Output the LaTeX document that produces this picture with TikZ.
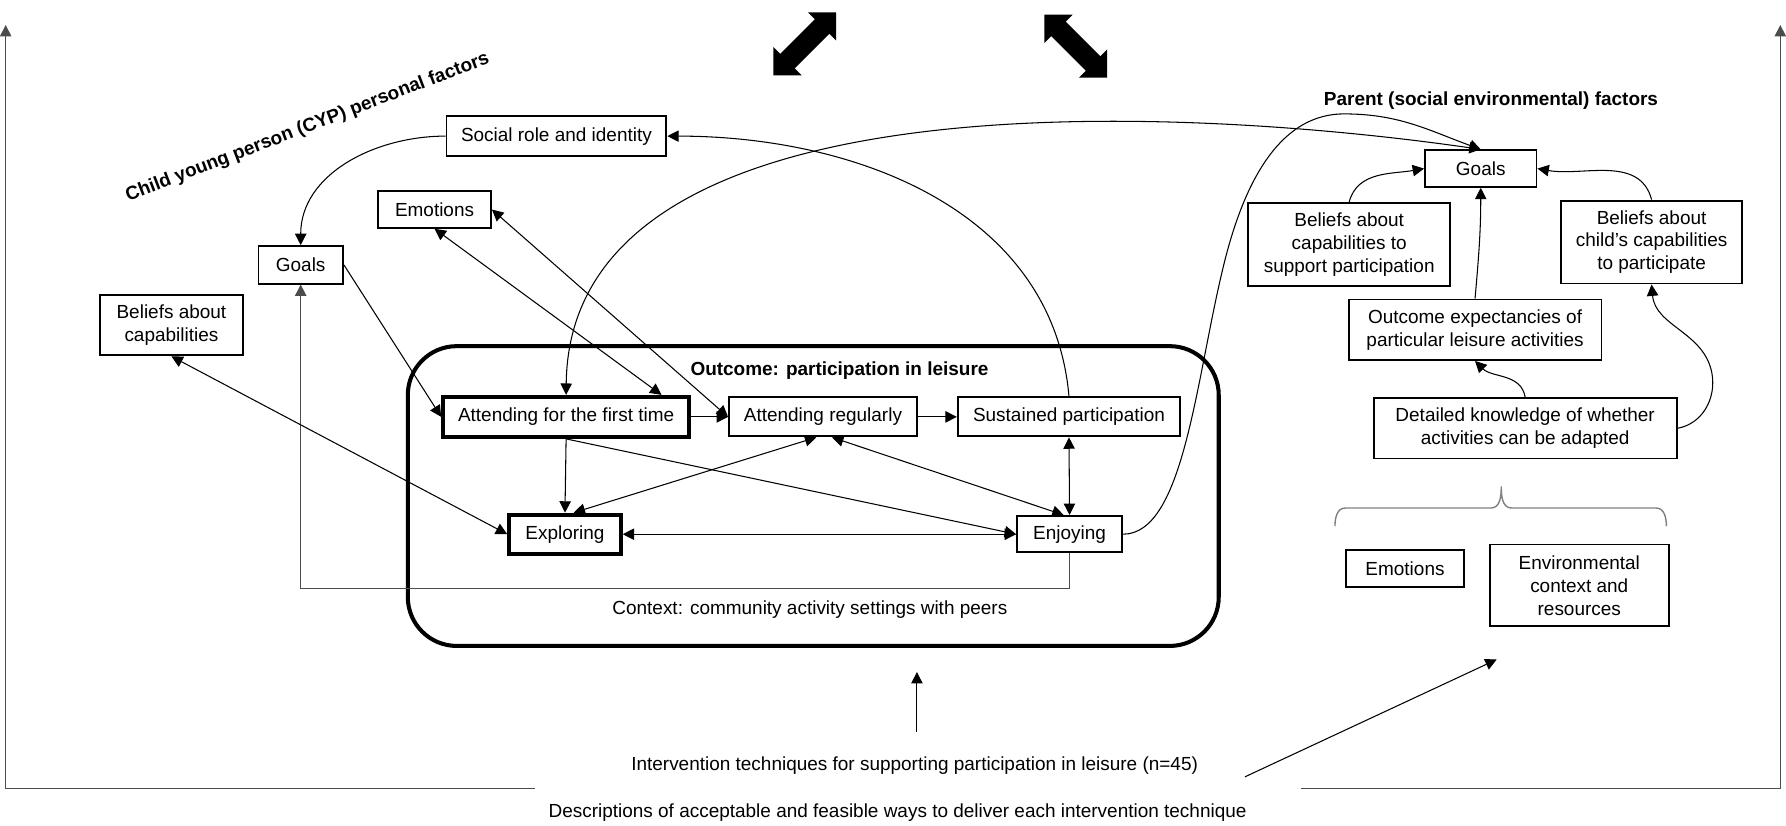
\documentclass[tikz,border=0pt]{standalone}
\usepackage{fontspec}
\setmainfont{Liberation Sans}
\usetikzlibrary{arrows.meta}

\tikzset{
  txt/.style={font=\fontsize{10.8}{13}\selectfont, align=center},
  heading/.style={txt, font=\fontsize{10.8}{13}\selectfont\bfseries},
  box/.style={txt, draw, line width=1.1pt, inner sep=1pt},
  thickbox/.style={box, line width=2.3pt},
  arrowend/.style={-{Triangle[length=6.5pt,width=6.5pt]}},
  link/.style={line width=0.6pt, arrowend},
  dlink/.style={line width=0.6pt, {Triangle[length=6.5pt,width=6.5pt]}-{Triangle[length=6.5pt,width=6.5pt]}},
  framing/.style={line width=0.8pt, draw=black!70},
}
\newcommand{\dblarrow}{(39,0) -- (21.5,17.5) -- (21.5,9) -- (-21.5,9) -- (-21.5,17.5) -- (-39,0) -- (-21.5,-17.5) -- (-21.5,-9) -- (21.5,-9) -- (21.5,-17.5) -- cycle}

\begin{document}
\begin{tikzpicture}[x=0.0228cm, y=-0.0228cm]
\useasboundingbox (0,0) rectangle (1568,725);

% outer frame
\coordinate (lfoot) at (470,692);
\coordinate (lcorner) at (5,692);
\coordinate (ltop) at (5,22);
\coordinate (rfoot) at (1142,692);
\coordinate (rcorner) at (1563,692);
\coordinate (rtop) at (1563,22);
\draw[framing, arrowend] (lfoot) -- (lcorner) -- (ltop);
\draw[framing, arrowend] (rfoot) -- (rcorner) -- (rtop);

% block arrows
\foreach \cx/\cy/\ang in {706.5/38.5/45, 944.5/40.5/-45}
  \fill[shift={(\cx,\cy)}, rotate=\ang] \dblarrow;

% outcome area
\node[draw, line width=2.3pt, rounded corners=0.98cm, minimum width=16.23cm, minimum height=6cm] (setting) at (714,435.5) {};
\node[heading] (outcome) at (737,325) {Outcome: participation in leisure};
\node[txt] (context) at (711,535) {Context: community activity settings with peers};

\node[thickbox, minimum width=4.92cm, minimum height=0.8cm] (att1) at (497,366) {Attending for the first time};
\node[box, minimum width=3.76cm, minimum height=0.78cm] (attR) at (722.5,366) {Attending regularly};
\node[box, minimum width=4.45cm, minimum height=0.78cm] (sus) at (938.5,366) {Sustained participation};
\node[thickbox, minimum width=2.23cm, minimum height=0.78cm] (expl) at (496,469) {Exploring};
\node[box, minimum width=2.1cm, minimum height=0.73cm] (enj) at (939,469) {Enjoying};

% child factors
\node[heading, rotate=21] (cyp) at (270,112) {Child young person (CYP) personal factors};
\node[box, minimum width=4.4cm, minimum height=0.8cm] (soc) at (488.5,119.5) {Social role and identity};
\node[box, minimum width=2.26cm, minimum height=0.73cm] (emoL) at (381.5,184) {Emotions};
\node[box, minimum width=1.69cm, minimum height=0.75cm] (goalsL) at (264,232.5) {Goals};
\node[box, minimum width=2.85cm, minimum height=1.21cm] (bcap) at (150.5,285.5) {Beliefs about\\capabilities};

% parent factors
\node[heading] (parent) at (1309,88) {Parent (social environmental) factors};
\node[box, minimum width=2.23cm, minimum height=0.73cm] (goalsR) at (1300,148) {Goals};
\node[box, minimum width=4.04cm, minimum height=1.66cm] (bsup) at (1184.5,214.5) {Beliefs about\\capabilities to\\support participation};
\node[box, minimum width=3.63cm, minimum height=1.66cm] (bchild) at (1450,212.5) {Beliefs about\\child’s capabilities\\to participate};
\node[box, minimum width=5.06cm, minimum height=1.21cm] (oexp) at (1295,289.5) {Outcome expectancies of\\particular leisure activities};
\node[box, minimum width=6.06cm, minimum height=1.21cm] (det) at (1339,376) {Detailed knowledge of whether\\activities can be adapted};
\node[box, minimum width=2.35cm, minimum height=0.73cm] (emoR) at (1233.5,499) {Emotions};
\node[box, minimum width=3.58cm, minimum height=1.64cm] (env) at (1386.5,514) {Environmental\\context and\\resources};
\draw[line width=0.8pt, draw=black!50] (1172,462) to[out=90,in=180] (1181,446) -- (1309,446)
  to[out=0,in=-90] (1318,427) to[out=-90,in=180] (1327,446) -- (1454,446) to[out=0,in=90] (1463,462);

% interventions
\node[txt] (intv) at (803,672) {Intervention techniques for supporting participation in leisure (n=45)};
\node[txt] (desc) at (788,713) {Descriptions of acceptable and feasible ways to deliver each intervention technique};
\coordinate (upfoot) at (805,643);
\coordinate (uptip) at (805,590);
\coordinate (diagfoot) at (1093,682);
\coordinate (diagtip) at (1314,579);
\draw[link] (upfoot) -- (uptip);
\draw[link] (diagfoot) -- (diagtip);

% connectors
\draw[link] (soc.west) to[out=180,in=90] (goalsL.north);
\draw[link] (sus.north) to[out=95,in=0] (soc.east);
\draw[dlink] (att1.north) .. controls (500,60) and (1050,95) .. (goalsR.north);
\draw[link] (enj.east) .. controls (1040,469) and (1050,330) .. (1075,230)
  .. controls (1100,130) and (1140,100) .. (1180,100) to[out=0,in=160] (goalsR.north);
\draw[dlink] (emoL.south) -- (att1.13.5);
\draw[dlink] (emoL.east) -- (attR.west);
\draw[link] (goalsL.east) -- (att1.west);
\draw[link, draw=black!70] (enj.south) -- ++(0,31) -| (goalsL.south);
\draw[dlink] (bcap.south) -- (expl.west);
\draw[link] (att1.east) -- (attR.west);
\draw[link] (attR.east) -- (sus.west);
\draw[link] (att1.south) -- (expl.north);
\draw[link] (att1.south) -- (enj.west);
\draw[dlink] (expl.68) -- (attR.-108);
\draw[dlink] (attR.-66) -- (enj.107);
\draw[dlink] (sus.south) -- (enj.north);
\draw[dlink] (expl.east) -- (enj.west);
\draw[link] (bsup.north) to[out=75,in=190] (goalsR.west);
\draw[link] (bchild.north) to[out=105,in=-10] (goalsR.east);
\draw[link] (oexp.north) to[out=85,in=-90] (goalsR.south);
\draw[link] (det.north) to[out=100,in=-45] (oexp.south);
\draw[link] (det.east) to[out=10,in=-80] (1503,328) to[out=100,in=-85] (bchild.south);
\end{tikzpicture}
\end{document}
